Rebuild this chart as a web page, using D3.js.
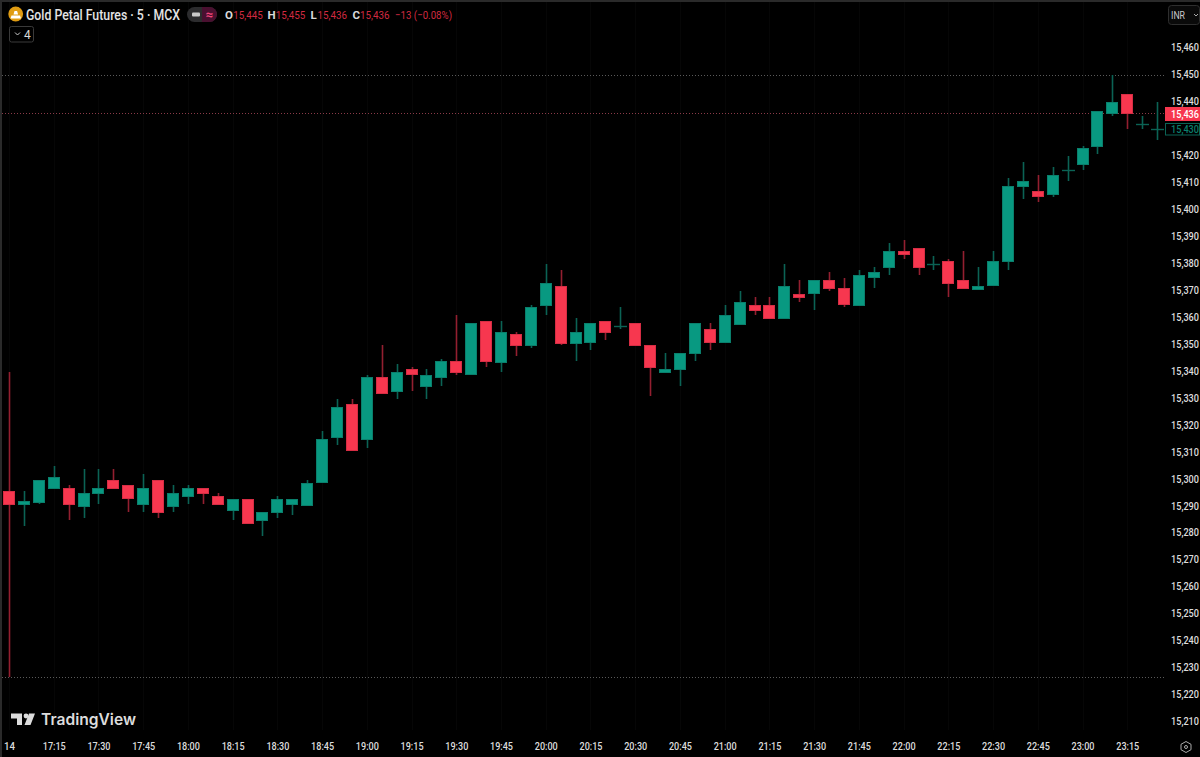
<!DOCTYPE html>
<html>
<head>
<meta charset="utf-8">
<script src="https://cdn.jsdelivr.net/npm/d3@7"></script>
<style>
  html, body { margin: 0; padding: 0; background: #000; overflow: hidden; }
  text { font-family: Roboto, "Liberation Sans", sans-serif; }
</style>
</head>
<body>
<div id="chart"></div>
<script>
var opens = [15296, 15291, 15292, 15297, 15297, 15290, 15295, 15300, 15298, 15291,
  15300, 15290, 15294, 15297, 15294, 15289, 15293, 15285, 15288, 15291,
  15291, 15299, 15316, 15328, 15315, 15338, 15333, 15341, 15335, 15338,
  15344, 15339, 15359, 15344, 15354, 15350, 15365, 15372, 15351, 15351,
  15359, 15357, 15358, 15350, 15340, 15341, 15347, 15356, 15351, 15358,
  15365, 15365, 15360, 15369, 15369, 15374, 15371, 15365, 15375, 15379,
  15385, 15386, 15380, 15381, 15374, 15371, 15372, 15381, 15409, 15407,
  15406, 15415, 15417, 15424, 15436, 15443, 15432, 15430];
var highs = [15340, 15296, 15300, 15305, 15298, 15304, 15304, 15304, 15298, 15302,
  15300, 15298, 15298, 15297, 15295, 15293, 15293, 15288, 15294, 15293,
  15300, 15318, 15330, 15330, 15339, 15350, 15343, 15342, 15341, 15345,
  15361, 15358, 15359, 15359, 15355, 15365, 15380, 15378, 15360, 15358,
  15359, 15364, 15358, 15350, 15347, 15347, 15358, 15358, 15365, 15370,
  15368, 15368, 15380, 15374, 15374, 15377, 15375, 15378, 15379, 15388,
  15389, 15386, 15383, 15382, 15385, 15379, 15385, 15412, 15418, 15413,
  15416, 15420, 15424, 15437, 15450, 15443, 15435, 15440];
var lows = [15227, 15283, 15291, 15297, 15285, 15286, 15291, 15297, 15288, 15288,
  15286, 15288, 15291, 15291, 15291, 15285, 15284, 15279, 15286, 15287,
  15291, 15299, 15313, 15311, 15312, 15332, 15330, 15333, 15330, 15335,
  15339, 15339, 15342, 15340, 15346, 15349, 15361, 15350, 15344, 15348,
  15352, 15356, 15350, 15331, 15340, 15335, 15344, 15348, 15351, 15358,
  15361, 15360, 15360, 15366, 15363, 15370, 15364, 15365, 15371, 15376,
  15382, 15376, 15378, 15368, 15371, 15371, 15372, 15378, 15404, 15403,
  15405, 15411, 15415, 15421, 15435, 15430, 15430, 15426];
var closes = [15291, 15292, 15300, 15301, 15291, 15295, 15297, 15297, 15293, 15297,
  15288, 15295, 15297, 15295, 15291, 15293, 15284, 15288, 15293, 15293,
  15299, 15315, 15327, 15311, 15338, 15332, 15340, 15339, 15339, 15344,
  15340, 15358, 15344, 15355, 15350, 15364, 15373, 15351, 15355, 15358,
  15355, 15357, 15350, 15342, 15341, 15347, 15358, 15351, 15361, 15366,
  15363, 15360, 15372, 15368, 15374, 15371, 15365, 15376, 15377, 15385,
  15384, 15379, 15380, 15373, 15371, 15372, 15381, 15409, 15411, 15405,
  15413, 15415, 15423, 15437, 15440, 15436, 15432, 15430];

// 15,430 sits under the boxed next-bar label
var priceTicks = [15460, 15450, 15440, 15420, 15410, 15400, 15390, 15380, 15370,
  15360, 15350, 15340, 15330, 15320, 15310, 15300, 15290, 15280, 15270,
  15260, 15250, 15240, 15230, 15220, 15210];
var timeLabels = ['14', '17:15', '17:30', '17:45', '18:00', '18:15', '18:30', '18:45', '19:00',
  '19:15', '19:30', '19:45', '20:00', '20:15', '20:30', '20:45', '21:00', '21:15', '21:30',
  '21:45', '22:00', '22:15', '22:30', '22:45', '23:00', '23:15'];

var legendNames = ['O', 'H', 'L', 'C'];
var legendValues = ['15,445', '15,455', '15,436', '15,436'];
var highLine = 15450;
var lastLine = 15436;
var lowLine = 15227;
var nextClose = 15430;

var width = 1200;
var height = 757;
var axisLeft = 1165;
var up = '#089981';
var upEdge = '#0a7f6c';
var down = '#f7374f';
var downEdge = '#d62d44';
var upWick = '#0b6355';
var downWick = '#931f30';
var textColor = '#dcdcdc';

var svg = d3.select('#chart')
    .append('svg')
    .attr('width', width)
    .attr('height', height)
    .style('display', 'block');

svg.append('rect').attr('width', width).attr('height', height).attr('fill', '#000');

// Scales
var x = d3.scaleLinear().domain([0, opens.length - 1]).range([9, 9 + 14.91 * (opens.length - 1)]);
var y = d3.scaleLinear().domain([15210, 15460]).range([722.5, 48.5]);

function px(v) { return Math.round(v) + 0.5; }

// Source text is narrower than Roboto, squeeze it to the measured width
function squeeze(sel, w) {
  return sel.attr('textLength', w).attr('lengthAdjust', 'spacingAndGlyphs');
}

// Window frame
svg.append('rect').attr('width', width).attr('height', 2).attr('fill', '#2a2a2a');
svg.append('rect').attr('width', 2).attr('height', height).attr('fill', '#2a2a2a');

// Faint vertical grid
svg.append('g').selectAll('line')
    .data(timeLabels)
    .enter()
    .append('line')
    .attr('x1', function(d, i) { return px(x(i * 3)); })
    .attr('x2', function(d, i) { return px(x(i * 3)); })
    .attr('y1', 2)
    .attr('y2', 730)
    .attr('stroke', '#060606');

// High, last and low lines
svg.append('g').selectAll('line')
    .data([highLine, lastLine, lowLine])
    .enter()
    .append('line')
    .attr('x1', 2)
    .attr('x2', axisLeft)
    .attr('y1', function(d) { return px(y(d)); })
    .attr('y2', function(d) { return px(y(d)); })
    .attr('stroke', function(d) { return d === lastLine ? '#8a3a48' : '#5a5a5a'; })
    .attr('stroke-dasharray', '1 2');

// Candles
var bars = d3.range(opens.length);
var candles = svg.append('g');

candles.selectAll('.wick')
    .data(bars)
    .enter()
    .append('line')
    .attr('class', 'wick')
    .attr('x1', function(i) { return px(x(i)); })
    .attr('x2', function(i) { return px(x(i)); })
    .attr('y1', function(i) { return Math.round(y(highs[i])); })
    .attr('y2', function(i) { return Math.round(y(lows[i])); })
    .attr('stroke-width', 1.6)
    .attr('stroke', function(i) { return closes[i] >= opens[i] ? upWick : downWick; });

candles.selectAll('.body')
    .data(bars.filter(function(i) { return closes[i] !== opens[i]; }))
    .enter()
    .append('rect')
    .attr('class', 'body')
    .attr('shape-rendering', 'crispEdges')
    .attr('x', function(i) { return Math.round(x(i)) - 5.5; })
    .attr('y', function(i) { return px(y(Math.max(opens[i], closes[i]))); })
    .attr('width', 11)
    .attr('height', function(i) { return Math.max(1, Math.round(Math.abs(y(opens[i]) - y(closes[i])))); })
    .attr('fill', function(i) { return closes[i] > opens[i] ? up : down; })
    .attr('stroke', function(i) { return closes[i] > opens[i] ? upEdge : downEdge; });

// Open equals close: a flat tick across the wick
candles.selectAll('.doji')
    .data(bars.filter(function(i) { return closes[i] === opens[i]; }))
    .enter()
    .append('line')
    .attr('class', 'doji')
    .attr('x1', function(i) { return Math.round(x(i)) - 6; })
    .attr('x2', function(i) { return Math.round(x(i)) + 7; })
    .attr('y1', function(i) { return px(y(opens[i])); })
    .attr('y2', function(i) { return px(y(opens[i])); })
    .attr('stroke-width', 1.4)
    .attr('stroke', upWick);

// Price axis
var axisY = d3.axisRight(y)
    .tickValues(priceTicks)
    .tickSize(0)
    .tickPadding(0)
    .tickFormat(d3.format(','));

var gy = svg.append('g')
    .attr('transform', 'translate(1171,-1.5)')
    .call(axisY);
gy.select('.domain').remove();
gy.selectAll('text').attr('fill', textColor).style('font-size', '11.5px').style('font-weight', 500)
    .call(squeeze, 28);

// Time axis
var axisX = d3.axisBottom(x)
    .tickValues(d3.range(0, timeLabels.length * 3, 3))
    .tickSize(0)
    .tickPadding(0)
    .tickFormat(function(d) { return timeLabels[d / 3]; });

var gx = svg.append('g')
    .attr('transform', 'translate(0,742)')
    .call(axisX);
gx.select('.domain').remove();
gx.selectAll('text').attr('fill', textColor).style('font-size', '11.5px').style('font-weight', 500)
    .each(function(d) { d3.select(this).call(squeeze, d === 0 ? 11 : 23); });

// Last price labels
svg.append('rect').attr('x', axisLeft).attr('y', 107).attr('width', 35).attr('height', 14).attr('fill', down);
svg.append('text').attr('x', 1171).attr('y', 118).attr('fill', '#fff')
    .style('font-size', '11.5px').style('font-weight', 500)
    .text(d3.format(',')(lastLine))
    .call(squeeze, 28);
svg.append('rect').attr('x', axisLeft + 0.5).attr('y', 123.5).attr('width', 34).attr('height', 11.5)
    .attr('fill', '#000').attr('stroke', '#0b6355');
svg.append('text').attr('x', 1171).attr('y', 132.5).attr('fill', '#0b7f6c')
    .style('font-size', '11.5px').style('font-weight', 500)
    .text(d3.format(',')(nextClose))
    .call(squeeze, 28);

// Currency button
svg.append('rect').attr('x', 1168.5).attr('y', 5.5).attr('width', 31).attr('height', 19).attr('rx', 3)
    .attr('fill', '#0a0a0a').attr('stroke', '#2e2e2e');
svg.append('text').attr('x', 1171).attr('y', 19).attr('fill', '#c8c8c8').style('font-size', '11px')
    .text('INR')
    .call(squeeze, 14);
svg.append('path').attr('d', 'M1194 14l2 2 2-2').attr('fill', 'none').attr('stroke', '#aaa');

// Header
svg.append('circle').attr('cx', 15.7).attr('cy', 14).attr('r', 7.4).attr('fill', '#e09c12');
svg.append('path').attr('d', 'M10.5 18.5l1-3h8.5l1 3z M13.5 14.5l1-3.5h2.6l1 3.5z').attr('fill', '#fff');
svg.append('text').attr('x', 26).attr('y', 19.5).attr('fill', '#e4e4e4')
    .style('font-size', '14px').style('font-weight', 500)
    .text('Gold Petal Futures \u00b7 5 \u00b7 MCX')
    .call(squeeze, 154);

svg.append('rect').attr('x', 187).attr('y', 7).attr('width', 30).attr('height', 15).attr('rx', 7.5).attr('fill', '#2c2c2e');
svg.append('path').attr('d', 'M202 7h7.5a7.5 7.5 0 0 1 0 15h-7.5z').attr('fill', '#4a1030');
svg.append('rect').attr('x', 192).attr('y', 12.5).attr('width', 8).attr('height', 4).attr('rx', 1).attr('fill', '#c9c9c9');
svg.append('text').attr('x', 205.5).attr('y', 18.5).attr('fill', '#f0457a').style('font-size', '13px').style('font-weight', 700).text('\u2248');

var legendX = [225, 267.5, 310.5, 352.5];
var legendValueX = [233.3, 275.7, 317.5, 360];
var legend = svg.append('g');
legend.selectAll('.name')
    .data(legendNames)
    .enter()
    .append('text')
    .attr('class', 'name')
    .attr('x', function(d, i) { return legendX[i]; })
    .attr('y', 19)
    .attr('fill', '#d8d8d8')
    .style('font-size', '11.5px')
    .style('font-weight', 700)
    .text(function(d) { return d; });
legend.selectAll('.value')
    .data(legendValues)
    .enter()
    .append('text')
    .attr('class', 'value')
    .attr('x', function(d, i) { return legendValueX[i]; })
    .attr('y', 19)
    .attr('fill', '#d22a40')
    .style('font-size', '11.5px')
    .text(function(d) { return d; })
    .call(squeeze, 29.5);
svg.append('text').attr('x', 395).attr('y', 19).attr('fill', '#d22a40').style('font-size', '11.5px')
    .text('\u221213 (\u22120.08%)')
    .call(squeeze, 57);

svg.append('rect').attr('x', 9.5).attr('y', 26.5).attr('width', 24).attr('height', 15.5).attr('rx', 2)
    .attr('fill', 'none').attr('stroke', '#3a3a3a');
svg.append('path').attr('d', 'M15 32.5l2.5 2.5 2.5-2.5').attr('fill', 'none').attr('stroke', '#ccc');
svg.append('text').attr('x', 24).attr('y', 38.5).attr('fill', '#d8d8d8').style('font-size', '12px').text('4');

// Watermark
svg.append('path').attr('d', 'M11 713.5h11v11.5h-5v-6.5h-6z M29 713.5h6l-4.5 11.5h-6z').attr('fill', '#dcdcdc');
svg.append('circle').attr('cx', 26).attr('cy', 716).attr('r', 2.4).attr('fill', '#dcdcdc');
svg.append('text').attr('x', 41).attr('y', 725).attr('fill', '#dcdcdc')
    .style('font-family', 'Inter, Roboto, sans-serif').style('font-size', '15.5px').style('font-weight', 600)
    .text('TradingView')
    .call(squeeze, 95);

// Settings icon
svg.append('path').attr('d', 'M1186 741.5l5 2.8v5.4l-5 2.8-5-2.8v-5.4z').attr('fill', 'none').attr('stroke', '#aaa');
svg.append('circle').attr('cx', 1186).attr('cy', 747).attr('r', 1.5).attr('fill', 'none').attr('stroke', '#aaa');
</script>
</body>
</html>
